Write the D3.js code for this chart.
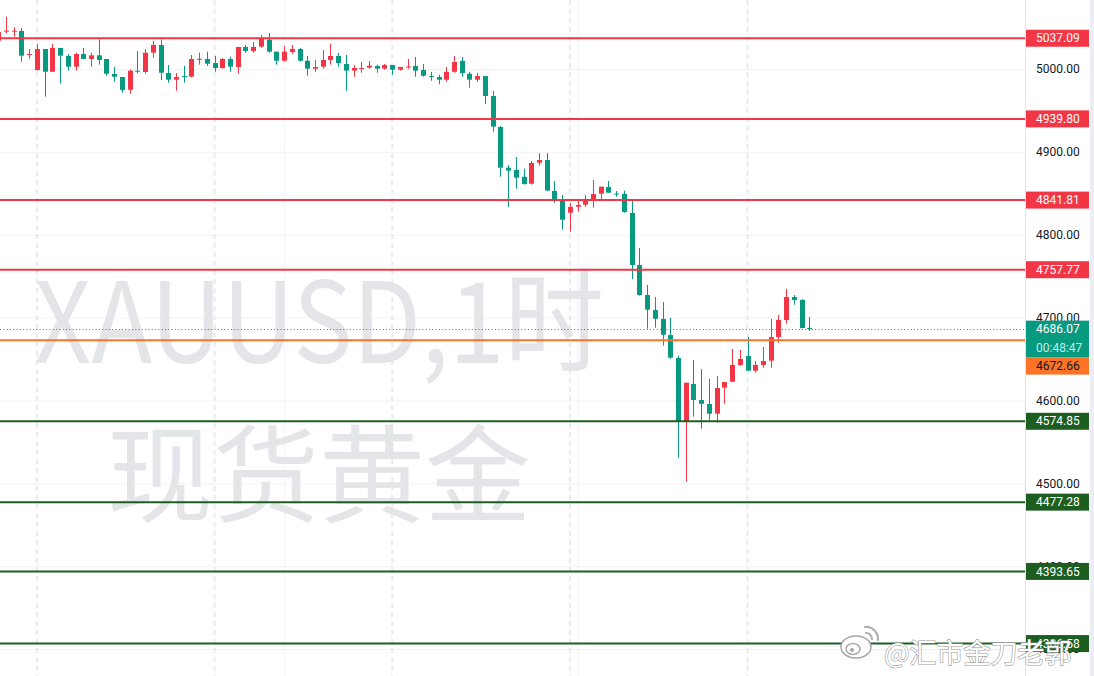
<!DOCTYPE html>
<html>
<head>
<meta charset="utf-8">
<script src="https://cdn.jsdelivr.net/npm/d3@7"></script>
<style>
  html, body { margin: 0; padding: 0; background: #fff; }
  svg { display: block; }
</style>
</head>
<body>
<div id="chart"></div>
<script>
// hourly XAUUSD candles (index 0 = leftmost, partially cut)
const candleOpen = [
  5034.2, 5045.5, 5045.6, 5045.9, 5016.9, 4998.8, 5024.1, 4996.7, 5025.4, 5015.7,
  5002.8, 5018.1, 5012.1, 5016.5, 5012.1, 4994.0, 4990.3, 4975.0, 4997.9, 4996.4,
  5019.7, 5029.0, 4995.2, 4987.1, 4991.5, 4990.7, 5011.7, 5012.1, 5007.2, 5001.2,
  5012.1, 5002.4, 5026.6, 5021.7, 5026.9, 5035.4, 5020.9, 5010.0, 5020.5, 5024.1,
  5010.0, 5000.4, 5002.8, 5010.9, 5015.7, 5006.0, 4998.0, 5000.5, 5001.6, 5003.6,
  5000.4, 5004.8, 4999.2, 5002.4, 5003.6, 4998.8, 4991.5, 4990.3, 4987.1, 4996.7,
  5009.7, 4994.3, 4987.1, 4991.5, 4967.4, 4930.0, 4880.9, 4878.1, 4870.0, 4861.6,
  4886.9, 4890.2, 4852.8, 4841.0, 4826.6, 4833.8, 4836.2, 4841.9, 4849.5, 4857.6,
  4849.7, 4849.1, 4826.2, 4763.5, 4727.2, 4709.1, 4698.3, 4678.9, 4651.2, 4574.0,
  4619.8, 4600.5, 4595.7, 4584.0, 4615.4, 4622.6, 4642.8, 4653.6, 4635.9, 4642.8,
  4648.0, 4676.5, 4697.1, 4724.8, 4721.2, 4687.6
];
const candleHigh = [
  5047.0, 5063.1, 5050.3, 5049.5, 5024.1, 5030.2, 5024.1, 5030.2, 5025.4, 5018.1,
  5019.7, 5025.4, 5019.7, 5035.9, 5012.1, 5002.8, 4990.3, 4999.2, 5021.7, 5024.1,
  5033.8, 5035.9, 5004.8, 4995.2, 5003.6, 5016.9, 5019.7, 5020.9, 5015.7, 5013.0,
  5014.9, 5026.6, 5029.0, 5032.6, 5041.0, 5043.4, 5020.9, 5027.8, 5029.0, 5025.4,
  5015.7, 5010.9, 5022.9, 5030.2, 5019.3, 5016.9, 5004.8, 5008.4, 5009.7, 5004.8,
  5006.0, 5004.8, 5002.4, 5012.1, 5014.5, 5006.0, 4996.4, 4993.1, 5002.4, 5015.7,
  5014.5, 4996.7, 4995.5, 4991.5, 4973.4, 4931.2, 4884.1, 4893.8, 4879.7, 4889.0,
  4898.6, 4898.6, 4864.8, 4848.0, 4838.3, 4843.1, 4848.0, 4866.1, 4858.0, 4864.8,
  4852.8, 4853.1, 4840.7, 4784.0, 4739.3, 4724.8, 4718.8, 4699.8, 4654.0, 4621.4,
  4648.8, 4637.9, 4625.9, 4629.5, 4622.2, 4662.1, 4660.9, 4676.5, 4647.6, 4664.5,
  4698.3, 4703.1, 4734.5, 4727.2, 4722.4, 4700.7
];
const candleLow = [
  5032.5, 5043.1, 5039.0, 5008.8, 5012.4, 4997.6, 4966.6, 4996.7, 4982.3, 4998.0,
  4998.0, 5012.1, 5002.8, 5005.2, 4991.9, 4984.7, 4971.4, 4970.2, 4994.8, 4994.3,
  5013.6, 4986.7, 4983.5, 4973.8, 4983.5, 4990.0, 5005.2, 5003.6, 4996.7, 5000.5,
  4996.7, 4994.3, 5019.7, 5019.7, 5025.7, 5019.7, 5005.2, 5008.8, 5018.5, 5008.8,
  4991.9, 4996.7, 5000.4, 5005.2, 5002.8, 4973.8, 4990.7, 4995.5, 5000.4, 4995.5,
  4999.2, 4993.1, 4998.0, 5000.4, 4990.7, 4990.7, 4985.9, 4981.5, 4984.7, 4995.5,
  4990.7, 4977.4, 4984.7, 4957.8, 4924.3, 4870.0, 4833.8, 4855.5, 4860.4, 4860.4,
  4883.3, 4852.8, 4838.6, 4806.0, 4803.6, 4827.8, 4833.8, 4832.6, 4841.9, 4850.7,
  4845.9, 4826.6, 4746.6, 4726.4, 4686.6, 4687.8, 4666.1, 4650.4, 4530.9, 4501.9,
  4580.4, 4565.9, 4576.7, 4573.1, 4596.0, 4622.6, 4641.6, 4635.9, 4633.5, 4639.5,
  4639.5, 4669.7, 4692.6, 4715.5, 4687.4, 4683.9
];
const candleClose = [
  5044.7, 5046.3, 5046.2, 5016.1, 5018.1, 5024.1, 4996.7, 5025.4, 5016.1, 5002.8,
  5018.1, 5012.1, 5016.5, 5010.9, 4994.3, 4990.7, 4974.7, 4997.9, 4997.2, 5019.7,
  5029.0, 4995.5, 4987.1, 4990.3, 4990.8, 5012.1, 5012.4, 5006.4, 5001.2, 5012.1,
  5002.8, 5026.6, 5021.7, 5026.6, 5036.6, 5020.9, 5010.0, 5020.9, 5024.1, 5010.0,
  5000.4, 5002.4, 5010.9, 5015.7, 5007.2, 4998.0, 5001.2, 5001.2, 5004.0, 5000.4,
  5004.8, 4999.2, 5002.4, 5003.0, 4998.0, 4991.9, 4990.8, 4987.1, 4996.4, 5008.4,
  4995.2, 4987.1, 4991.5, 4967.4, 4930.4, 4880.9, 4877.3, 4868.8, 4861.2, 4886.6,
  4890.2, 4853.2, 4841.9, 4818.1, 4833.5, 4835.9, 4841.9, 4849.1, 4858.0, 4850.7,
  4849.1, 4827.4, 4763.5, 4727.2, 4709.5, 4698.6, 4679.3, 4651.6, 4574.8, 4621.4,
  4600.6, 4596.0, 4584.0, 4615.0, 4622.2, 4642.8, 4650.0, 4635.9, 4642.8, 4647.6,
  4676.5, 4697.1, 4724.8, 4721.2, 4687.4, 4686.07
];

// session breaks and time grid (candle index)
const sessionStarts = [5, 28, 51, 74, 97];
const timeGridCandles = [37, 75];

// horizontal levels drawn on the chart
const resistanceLevels = [5037.09, 4939.80, 4841.81, 4757.77];
const supportLevels = [4574.85, 4477.28, 4393.65, 4306.58];
const pivotLevel = 4672.66;
const lastPrice = 4686.07;
const countdown = "00:48:47";

const priceTicks = [4300, 4400, 4500, 4600, 4700, 4800, 4900, 5000];
const watermarkLines = ["XAUUSD,1时", "现货黄金"];
const signature = "@汇市金刀老郭";

// 1. sizes
const width = 1094;
const height = 676;
const paneRight = 1025;

const upColor = "#f23645";
const downColor = "#089981";
const supportColor = "#1d5e20";
const pivotColor = "#fb7326";

const svg = d3.select("#chart")
  .append("svg")
  .attr("width", width)
  .attr("height", height)
  .style("font-family", "Roboto, 'Noto Sans', sans-serif");

svg.append("rect")
  .attr("width", width)
  .attr("height", height)
  .attr("fill", "#ffffff");

// 2. scales
const n = candleClose.length;
const xScale = d3.scaleLinear()
  .domain([0, n - 1])
  .range([-1.7, 809.3]);

const yScale = d3.scaleLinear()
  .domain([4267.44, 5083.27])
  .range([height, 0]);

// 3. grid
const grid = svg.append("g");

grid.append("g")
  .call(d3.axisLeft(yScale).tickValues(priceTicks).tickSize(-paneRight).tickFormat(""))
  .call(g => g.select(".domain").remove())
  .selectAll("line")
  .attr("stroke", "#f0f2f6");

grid.selectAll(".tgrid")
  .data(timeGridCandles)
  .enter()
  .append("line")
  .attr("x1", d => xScale(d) + 0.5)
  .attr("x2", d => xScale(d) + 0.5)
  .attr("y1", 0)
  .attr("y2", height)
  .attr("stroke", "#f0f2f6");

grid.selectAll(".session")
  .data(sessionStarts)
  .enter()
  .append("line")
  .attr("x1", d => xScale(d))
  .attr("x2", d => xScale(d))
  .attr("y1", 0)
  .attr("y2", height)
  .attr("stroke", "#e8eaf0")
  .attr("stroke-width", 2)
  .attr("stroke-dasharray", "5,4");

// 4. watermark
const wm = svg.append("g")
  .attr("fill", "#e4e5e9")
  .attr("font-family", "'Noto Sans CJK SC', sans-serif");

wm.append("text")
  .attr("x", 34)
  .attr("y", 363)
  .attr("font-size", 112)
  .attr("textLength", 570)
  .attr("lengthAdjust", "spacingAndGlyphs")
  .text(watermarkLines[0]);

wm.append("text")
  .attr("x", 107)
  .attr("y", 514)
  .attr("font-size", 106)
  .text(watermarkLines[1]);

// 5. candles
const candles = d3.range(n).map(i => ({
  i: i,
  o: candleOpen[i],
  h: candleHigh[i],
  l: candleLow[i],
  c: candleClose[i]
}));

const cg = svg.append("g");
const candle = cg.selectAll("g")
  .data(candles)
  .enter()
  .append("g");

candle.append("rect")
  .attr("x", d => Math.round(xScale(d.i)))
  .attr("width", 1)
  .attr("y", d => yScale(d.h))
  .attr("height", d => Math.max(1, yScale(d.l) - yScale(d.h)))
  .attr("fill", d => d.c >= d.o ? upColor : downColor);

candle.append("rect")
  .attr("x", d => Math.round(xScale(d.i)) - 2)
  .attr("width", 5)
  .attr("y", d => yScale(Math.max(d.o, d.c)))
  .attr("height", d => Math.max(1, Math.abs(yScale(d.o) - yScale(d.c))))
  .attr("fill", d => d.c >= d.o ? upColor : downColor);

// 6. level lines
const levels = []
  .concat(resistanceLevels.map(v => ({ v: v, color: upColor })))
  .concat(supportLevels.map(v => ({ v: v, color: supportColor })));

svg.append("g")
  .selectAll("line")
  .data(levels)
  .enter()
  .append("line")
  .attr("x1", 0)
  .attr("x2", paneRight)
  .attr("y1", d => yScale(d.v))
  .attr("y2", d => yScale(d.v))
  .attr("stroke", d => d.color)
  .attr("stroke-width", 2);

svg.append("line")
  .attr("x1", 0)
  .attr("x2", paneRight)
  .attr("y1", yScale(pivotLevel))
  .attr("y2", yScale(pivotLevel))
  .attr("stroke", pivotColor)
  .attr("stroke-width", 2);

svg.append("line")
  .attr("x1", 0)
  .attr("x2", paneRight)
  .attr("y1", Math.round(yScale(lastPrice)) + 0.5)
  .attr("y2", Math.round(yScale(lastPrice)) + 0.5)
  .attr("stroke", downColor)
  .attr("stroke-dasharray", "1,2.3");

// 7. price scale
const axisG = svg.append("g");
axisG.append("rect")
  .attr("x", paneRight)
  .attr("width", width - paneRight)
  .attr("height", height)
  .attr("fill", "#ffffff");
axisG.append("line")
  .attr("x1", paneRight + 0.5)
  .attr("x2", paneRight + 0.5)
  .attr("y1", 0)
  .attr("y2", height)
  .attr("stroke", "#e0e3eb");
axisG.append("rect")
  .attr("x", 1090)
  .attr("width", 4)
  .attr("height", height)
  .attr("fill", "#eceef3");

axisG.append("g")
  .attr("transform", "translate(" + paneRight + ",0)")
  .call(d3.axisRight(yScale).tickValues(priceTicks).tickSize(0).tickPadding(11).tickFormat(d3.format(".2f")))
  .call(g => g.select(".domain").remove())
  .selectAll("text")
  .attr("fill", "#131722")
  .attr("font-size", 12)
  .attr("font-family", "Roboto, sans-serif");

// 8. labels on the price scale
const fmt = d3.format(".2f");
const labelH = 17;
const labelG = svg.append("g").attr("font-size", 12);

function priceLabel(v, color, top, textColor) {
  labelG.append("rect")
    .attr("x", paneRight + 1)
    .attr("y", top)
    .attr("width", 63)
    .attr("height", labelH)
    .attr("fill", color);
  labelG.append("text")
    .attr("x", 1036)
    .attr("y", top + labelH / 2)
    .attr("dy", "0.35em")
    .attr("fill", textColor || "#ffffff")
    .text(typeof v === "number" ? fmt(v) : v);
}

levels.forEach(d => priceLabel(d.v, d.color, yScale(d.v) - labelH / 2));

// last price + countdown box
const lastTop = yScale(lastPrice) - labelH / 2;
labelG.append("rect")
  .attr("x", paneRight + 1)
  .attr("y", lastTop)
  .attr("width", 63)
  .attr("height", labelH * 2 + 3)
  .attr("fill", downColor);
labelG.append("text")
  .attr("x", 1036)
  .attr("y", lastTop + labelH / 2)
  .attr("dy", "0.35em")
  .attr("fill", "#ffffff")
  .text(fmt(lastPrice));
labelG.append("text")
  .attr("x", 1036)
  .attr("y", lastTop + labelH * 1.5 + 2)
  .attr("dy", "0.35em")
  .attr("fill", "#bfece3")
  .text(countdown);

// pivot label pushed below the last price box
const pivotTop = Math.max(yScale(pivotLevel) - labelH / 2, lastTop + labelH * 2 + 3);
priceLabel(pivotLevel, pivotColor, pivotTop, "#131722");

// 9. signature
const sig = svg.append("g");
sig.append("ellipse")
  .attr("cx", 856).attr("cy", 647).attr("rx", 15).attr("ry", 11)
  .attr("fill", "#ffffff").attr("stroke", "#a8a8a8").attr("stroke-width", 1.5);
sig.append("ellipse")
  .attr("cx", 853).attr("cy", 649).attr("rx", 7).attr("ry", 5.5)
  .attr("fill", "none").attr("stroke", "#a8a8a8").attr("stroke-width", 1.5);
sig.append("circle")
  .attr("cx", 852).attr("cy", 650).attr("r", 2)
  .attr("fill", "#a8a8a8");
sig.append("path")
  .attr("d", "M866,633 A6,6 0 0 1 872,639 M865,627 A12,12 0 0 1 878,640")
  .attr("fill", "none").attr("stroke", "#b0b0b0").attr("stroke-width", 2.2)
  .attr("stroke-linecap", "round");
sig.append("text")
  .attr("x", 884)
  .attr("y", 663)
  .attr("font-size", 27)
  .attr("font-family", "'Noto Sans CJK SC', sans-serif")
  .attr("fill", "#ffffff")
  .attr("stroke", "#9a9a9a")
  .attr("stroke-width", 1.2)
  .attr("paint-order", "stroke")
  .text(signature);
</script>
</body>
</html>
